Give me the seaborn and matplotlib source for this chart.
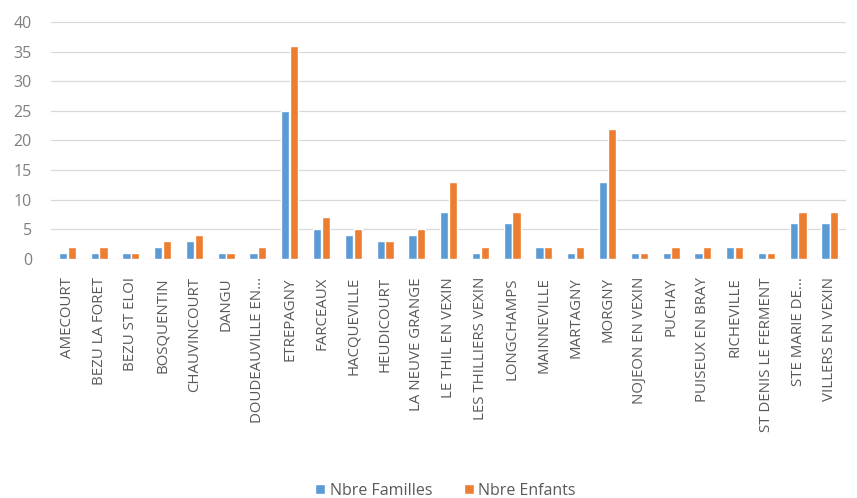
import pandas as pd
import numpy as np
import matplotlib
matplotlib.use("Agg")
import matplotlib.pyplot as plt
import seaborn as sns

communes = ["AMECOURT", "BEZU LA FORET", "BEZU ST ELOI", "BOSQUENTIN", "CHAUVINCOURT",
            "DANGU", "DOUDEAUVILLE EN...", "ETREPAGNY", "FARCEAUX", "HACQUEVILLE",
            "HEUDICOURT", "LA NEUVE GRANGE", "LE THIL EN VEXIN", "LES THILLIERS VEXIN",
            "LONGCHAMPS", "MAINNEVILLE", "MARTAGNY", "MORGNY", "NOJEON EN VEXIN",
            "PUCHAY", "PUISEUX EN BRAY", "RICHEVILLE", "ST DENIS LE FERMENT",
            "STE MARIE DE...", "VILLERS EN VEXIN"]
familles = [1, 1, 1, 2, 3, 1, 1, 25, 5, 4, 3, 4, 8, 1, 6, 2, 1, 13, 1, 1, 1, 2, 1, 6, 6]
enfants = [2, 2, 1, 3, 4, 1, 2, 36, 7, 5, 3, 5, 13, 2, 8, 2, 2, 22, 1, 2, 2, 2, 1, 8, 8]
series = ["Nbre Familles", "Nbre Enfants"]

df = pd.DataFrame({"commune": communes, series[0]: familles, series[1]: enfants})
long = df.melt(id_vars="commune", var_name="serie", value_name="n")

sns.set_style("white")
plt.rcParams['font.family'] = ['Open Sans', 'DejaVu Sans']

fig = plt.figure(figsize=(8.57, 4.98), dpi=100)
ax = fig.add_axes([0.06, 0.48, 0.927, 0.476])

sns.barplot(data=long, x="commune", y="n", hue="serie", hue_order=series,
            palette=["#5B9BD5", "#ED7D31"], width=0.55, gap=0.06,
            saturation=1, ax=ax)

ax.set_ylim(0, 40)
ax.set_yticks(range(0, 41, 5))
ax.set_xlim(-0.5, len(communes) - 0.5)
ax.yaxis.grid(True, color="#d9d9d9", lw=0.9)
ax.set_axisbelow(True)
for s in ax.spines.values():
    s.set_visible(False)
ax.set_xlabel("")
ax.set_ylabel("")
ax.tick_params(axis="y", labelsize=11.5, colors="#7f7f7f", length=0, pad=14)
ax.tick_params(axis="x", labelsize=10.8, colors="#595959", length=0, rotation=90, pad=13)

ax.legend_.remove()
handles, labels = ax.get_legend_handles_labels()
fig.legend(handles, labels, loc="lower center", ncol=2, frameon=False,
           fontsize=11.5, labelcolor="#595959", handlelength=0.6, handleheight=0.6,
           handletextpad=0.3, columnspacing=2.0, bbox_to_anchor=(0.52, -0.03))

fig.savefig("out.png", dpi=100)
